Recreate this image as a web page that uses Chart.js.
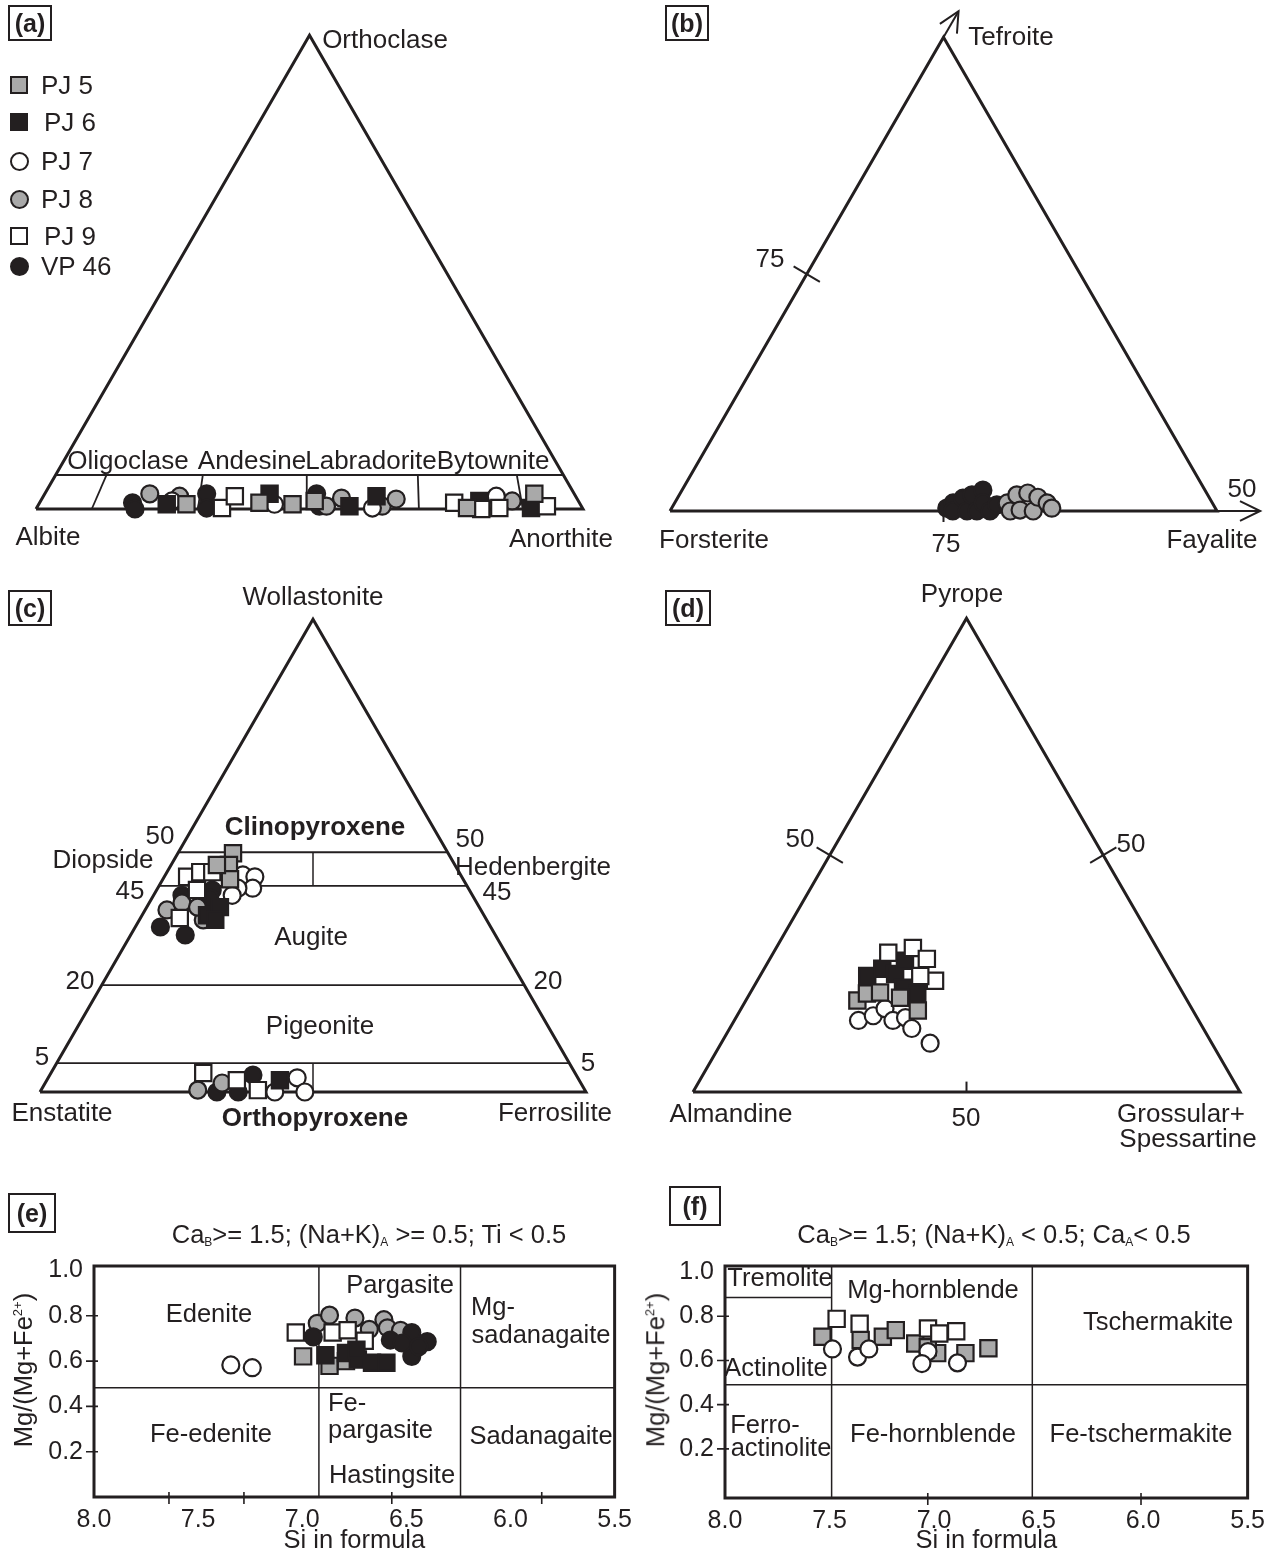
<!DOCTYPE html>
<html>
<head>
<meta charset="utf-8">
<script src="https://cdn.jsdelivr.net/npm/chart.js@4.4.1/dist/chart.umd.min.js"></script>
<style>
  body { margin: 0; background: #fff; }
  #page { position: relative; width: 1273px; height: 1556px; overflow: hidden;
          font-family: "Liberation Sans", Arial, sans-serif; color: #231f20; }
  #page canvas { position: absolute; }
  .lbl { position: absolute; font-size: 26px; line-height: 1; white-space: nowrap; transform: translate(-50%, -50%); }
  .lbl.sm { font-size: 25.5px; }
  .lbl.bold { font-weight: bold; }
  .lbl.left { transform: translate(0, -50%); }
  .lbl.rot { transform: translate(-50%, -50%) rotate(-90deg); }
  .lbl sub { font-size: 12px; line-height: 0; vertical-align: -3px; }
  .lbl sup { font-size: 13px; line-height: 0; vertical-align: 10px; }
  .tag { position: absolute; box-sizing: border-box; border: 2px solid #231f20; display: flex;
         align-items: center; justify-content: center; font: bold 25px "Liberation Sans", Arial, sans-serif; }
  .key { position: absolute; box-sizing: border-box; border: 2.5px solid #231f20; }
</style>
</head>
<body>
<div id="page"></div>
<script>
/* ---------- data ---------- */
const seriesNames = ['PJ 5', 'PJ 6', 'PJ 7', 'PJ 8', 'PJ 9', 'VP 46'];

// (a) feldspar, [An %, Or %]
const plagPJ5 = [[27.0, 1.0], [40.2, 1.3], [46.4, 1.0], [50.1, 1.7], [78.7, 0.2], [89.5, 3.2]];
const plagPJ6 = [[23.4, 1.0], [41.1, 3.2], [57.0, 0.6], [60.9, 2.7], [80.2, 1.7], [90.4, 0.2]];
const plagPJ7 = [[24.0, 1.7], [43.1, 1.0], [61.4, 0.2], [82.8, 2.7]];
const plagPJ8 = [[19.2, 3.2], [24.9, 2.7], [52.8, 0.6], [54.7, 2.3], [63.0, 0.6], [64.8, 2.1], [86.2, 1.7]];
const plagPJ9 = [[33.9, 0.2], [35.0, 2.7], [75.8, 1.3], [81.4, 0.0], [84.6, 0.2], [93.1, 0.6]];
const plagVP46 = [[17.0, 1.3], [18.1, 0.0], [29.6, 3.2], [31.1, 0.2], [49.7, 3.2], [51.5, 0.6]];
const plagFieldOr = 7.2;                       // top of the plagioclase band
const plagDivBase = [10.2, 29.6, 49.5, 70.0, 89.0]; // An at the base
const plagDivTop = [9.3, 26.9, 45.9, 66.2, 84.3];   // An at the band top

// (b) olivine, [Te %, Fa %] of the plotted triangle
const olPJ8 = [[1.7, 60.8], [0.0, 62.2], [3.4, 61.7], [0.2, 63.9], [3.8, 63.5], [0.0, 66.4], [2.9, 65.8], [1.7, 68.1], [0.6, 69.5]];
const olVP46 = [[0.6, 50.3], [1.7, 50.9], [0.0, 51.7], [2.7, 52.2], [0.0, 54.3], [3.4, 53.5], [0.0, 56.1], [4.4, 55.0], [1.7, 56.4], [0.0, 58.5], [1.3, 59.1]];

// (c) pyroxene, [Wo %, Fs %]
const pxPJ5 = [[50.5, 10.1], [48.0, 10.6], [45.0, 12.3], [48.0, 8.4]];
const pxPJ6 = [[37.4, 11.9], [39.1, 13.4], [36.4, 13.9], [2.5, 42.7]];
const pxPJ7 = [[45.9, 14.2], [45.5, 16.6], [43.1, 17.4], [43.1, 14.7], [41.6, 14.4], [0.0, 43.0], [3.0, 45.6], [0.0, 48.5]];
const pxPJ8 = [[38.5, 4.0], [36.4, 11.7], [40.0, 6.0], [39.1, 9.3], [0.4, 28.7], [1.9, 32.4]];
const pxPJ9 = [[45.5, 4.2], [46.5, 6.1], [42.7, 7.4], [36.8, 7.2], [46.5, 8.3], [4.0, 27.9], [2.5, 34.8], [0.4, 39.7]];
const pxVP46 = [[41.6, 5.2], [42.7, 10.2], [34.9, 4.6], [33.2, 10.0], [41.0, 10.6], [0.0, 32.4], [3.6, 37.2], [0.0, 36.3]];
const pxWoLines = [50.7, 43.6, 22.6, 6.1];

// (d) garnet, [Py %, Grs+Sps %]
const grtPJ5 = [[19.3, 20.4], [20.8, 21.4], [21.0, 23.7], [19.9, 27.9], [17.2, 32.5]];
const grtPJ6 = [[24.5, 19.6], [26.0, 21.6], [24.9, 24.5], [22.0, 27.4], [20.8, 30.6], [27.7, 24.9]];
const grtPJ7 = [[15.1, 22.7], [16.1, 24.9], [17.6, 26.3], [15.1, 29.0], [15.7, 31.0], [13.4, 33.3], [10.3, 38.2]];
const grtPJ9 = [[29.4, 21.0], [30.4, 25.0], [28.1, 28.7], [23.5, 32.5], [24.5, 29.3]];

// (e)/(f) amphibole, [Si, Mg/(Mg+Fe2+)]
const siTicks = [8.0, 7.5, 7.0, 6.5, 6.0, 5.5];
const mgTicks = [0.2, 0.4, 0.6, 0.8, 1.0];
const amEPJ5 = [[6.996, 0.621], [6.869, 0.579], [6.79, 0.60]];
const amEPJ6 = [[6.889, 0.626], [6.79, 0.636], [6.733, 0.607], [6.665, 0.593], [6.596, 0.593], [6.74, 0.65]];
const amEPJ7 = [[7.343, 0.583], [7.240, 0.571]];
const amEPJ8 = [[6.928, 0.767], [6.869, 0.803], [6.747, 0.79], [6.678, 0.74], [6.608, 0.783], [6.591, 0.747], [6.528, 0.736]];
const amEPJ9 = [[7.031, 0.726], [6.854, 0.726], [6.782, 0.736], [6.70, 0.69]];
const amEVP46 = [[6.947, 0.707], [6.474, 0.726], [6.40, 0.686], [6.474, 0.621], [6.577, 0.693], [6.52, 0.68], [6.44, 0.664]];
const amESiBounds = [6.92, 6.24];
const amEMgBound = 0.482;
const amETickMarks = [7.64, 7.28, 6.57, 5.85];
const amFPJ5 = [[7.534, 0.707], [7.351, 0.692], [7.245, 0.707], [7.183, 0.737], [7.09, 0.677], [6.985, 0.633], [6.85, 0.633], [6.74, 0.655], [7.03, 0.66]];
const amFPJ7 = [[7.486, 0.652], [7.366, 0.615], [7.312, 0.652], [7.029, 0.640], [7.058, 0.586], [6.888, 0.589]];
const amFPJ9 = [[7.466, 0.788], [7.356, 0.766], [7.029, 0.744], [6.975, 0.722], [6.894, 0.732]];
const amFSiBounds = [7.49, 6.53];
const amFMgBound = 0.49;
const amFTremolite = 0.885;
const amFTickMarks = [7.03, 6.01];

/* ---------- helpers ---------- */
const BLACK = '#231f20';
const GRAY = '#a9a9a9';
const FONT = '"Liberation Sans", Arial, sans-serif';
const page = document.getElementById('page');
const markerFill = { 'PJ 5': GRAY, 'PJ 6': BLACK, 'PJ 7': '#fff', 'PJ 8': GRAY, 'PJ 9': '#fff', 'VP 46': BLACK };
const markerShape = { 'PJ 5': 'rect', 'PJ 6': 'rect', 'PJ 7': 'circle', 'PJ 8': 'circle', 'PJ 9': 'rect', 'VP 46': 'circle' };

const R3 = Math.sqrt(3) / 2;
// ternary (top %, right %) -> unit-side triangle, left vertex at origin
function tern(top, right) { return { x: (right + top / 2) / 100, y: top * R3 / 100 }; }

function pointSet(name, data) {
  const sq = markerShape[name] === 'rect';
  return {
    label: name, data, showLine: false, order: 0,
    pointStyle: markerShape[name], pointRadius: sq ? 11.5 : 8.5,
    backgroundColor: markerFill[name], borderColor: BLACK, borderWidth: 2.2
  };
}
function lineSet(data, width) {
  return { data, showLine: true, pointRadius: 0, borderColor: BLACK, borderWidth: width || 2, fill: false, order: 1, clip: false };
}
const triangle = () => lineSet([tern(0, 0), tern(0, 100), tern(100, 0), tern(0, 0)], 3);

function addCanvas(box) {
  const cv = document.createElement('canvas');
  cv.width = box[2]; cv.height = box[3];
  cv.style.left = box[0] + 'px'; cv.style.top = box[1] + 'px';
  page.appendChild(cv);
  return cv;
}
const quiet = { legend: { display: false }, tooltip: { enabled: false } };

function ternaryChart(box, origin, side, datasets) {
  new Chart(addCanvas(box), {
    type: 'scatter',
    data: { datasets },
    options: {
      responsive: false, animation: false, devicePixelRatio: 1, events: [],
      layout: { padding: 0, autoPadding: false },
      plugins: quiet,
      scales: {
        x: { type: 'linear', display: false, min: (box[0] - origin[0]) / side, max: (box[0] + box[2] - origin[0]) / side },
        y: { type: 'linear', display: false, min: (origin[1] - box[1] - box[3]) / side, max: (origin[1] - box[1]) / side }
      }
    }
  });
}

// frame + tick marks that cross the frame
const framePlugin = {
  id: 'frame',
  afterDraw(chart, args, opts) {
    const { ctx, chartArea: a, scales: { x, y } } = chart;
    ctx.save();
    ctx.strokeStyle = BLACK;
    ctx.lineWidth = 1.6;
    ctx.beginPath();
    opts.xMarks.forEach(v => { const p = x.getPixelForValue(v); ctx.moveTo(p, a.bottom - 5); ctx.lineTo(p, a.bottom + 7); });
    opts.yMarks.forEach(v => { const p = y.getPixelForValue(v); ctx.moveTo(a.left - 8, p); ctx.lineTo(a.left + 4, p); });
    ctx.stroke();
    ctx.lineWidth = 3;
    ctx.strokeRect(a.left, a.top, a.width, a.height);
    ctx.restore();
  }
};

function amphChart(box, frame, yRange, datasets, xMarks) {
  const yWidth = frame[0] - box[0];
  const xHeight = box[1] + box[3] - frame[3];
  new Chart(addCanvas(box), {
    type: 'scatter',
    data: { datasets },
    plugins: [framePlugin],
    options: {
      responsive: false, animation: false, devicePixelRatio: 1, events: [],
      layout: { padding: { top: frame[1] - box[1], right: box[0] + box[2] - frame[2], left: 0, bottom: 0 }, autoPadding: false },
      plugins: Object.assign({ frame: { xMarks, yMarks: [0.2, 0.4, 0.6, 0.8] } }, quiet),
      scales: {
        x: {
          type: 'linear', reverse: true, min: 5.5, max: 8.0,
          afterBuildTicks: s => { s.ticks = siTicks.map(v => ({ value: v })); },
          afterFit: s => { s.height = xHeight; },
          grid: { display: false, drawTicks: false }, border: { display: false },
          ticks: { padding: 8, color: BLACK, font: { family: FONT, size: 25 }, maxRotation: 0, autoSkip: false,
                   callback: v => v.toFixed(1) },
          title: { display: true, text: 'Si in formula', color: BLACK, font: { family: FONT, size: 25.5 }, padding: { top: 0, bottom: 0 } }
        },
        y: {
          type: 'linear', min: yRange[0], max: yRange[1],
          afterBuildTicks: s => { s.ticks = mgTicks.map(v => ({ value: v })); },
          afterFit: s => { s.width = yWidth; },
          grid: { display: false, drawTicks: false }, border: { display: false },
          ticks: { padding: 11, color: BLACK, font: { family: FONT, size: 25 }, callback: v => v.toFixed(1) }
        }
      }
    }
  });
}
const xy = arr => arr.map(p => ({ x: p[0], y: p[1] }));

/* ---------- (a) feldspar ---------- */
const aLines = [triangle(), lineSet([tern(plagFieldOr, 0), tern(plagFieldOr, 100 - plagFieldOr)], 2)];
plagDivBase.forEach((b, i) => aLines.push(lineSet([tern(0, b), tern(plagFieldOr, plagDivTop[i])], 1.8)));
const plag = (name, arr) => pointSet(name, arr.map(p => tern(p[1], p[0])));
ternaryChart([0, 0, 636, 580], [36, 509], 547, [
  plag('PJ 5', plagPJ5), plag('PJ 9', plagPJ9), plag('PJ 6', plagPJ6),
  plag('PJ 7', plagPJ7), plag('PJ 8', plagPJ8), plag('VP 46', plagVP46)
].concat(aLines));

/* ---------- (b) olivine ---------- */
const apex = tern(100, 0);
const dir = { x: 0.5, y: R3 };
const tipT = { x: apex.x + 0.055 * dir.x, y: apex.y + 0.055 * dir.y };
const perp = { x: R3, y: -0.5 };
const barb = s => ({ x: tipT.x - 0.037 * dir.x + s * 0.018 * perp.x, y: tipT.y - 0.037 * dir.y + s * 0.018 * perp.y });
const midL = tern(50, 0);
const bLines = [
  triangle(),
  lineSet([apex, tipT], 2), lineSet([barb(1), tipT, barb(-1)], 2),
  lineSet([tern(0, 100), { x: 1.079, y: 0 }], 2),
  lineSet([{ x: 1.042, y: 0.018 }, { x: 1.079, y: 0 }, { x: 1.042, y: -0.018 }], 2),
  lineSet([tern(0, 50), { x: 0.5, y: -0.02 }], 2),
  lineSet([{ x: midL.x - 0.024, y: midL.y + 0.014 }, { x: midL.x + 0.024, y: midL.y - 0.014 }], 2)
];
const ol = (name, arr) => pointSet(name, arr.map(p => tern(p[0], p[1])));
ternaryChart([636, 0, 637, 580], [670, 511], 547, [ol('PJ 8', olPJ8), ol('VP 46', olVP46)].concat(bLines));

/* ---------- (c) pyroxene ---------- */
const cLines = [triangle()];
pxWoLines.forEach(w => cLines.push(lineSet([tern(w, 0), tern(w, 100 - w)], 1.8)));
cLines.push(lineSet([tern(pxWoLines[1], (100 - pxWoLines[1]) / 2), tern(pxWoLines[0], (100 - pxWoLines[0]) / 2)], 1.5));
cLines.push(lineSet([tern(0, 50), tern(pxWoLines[3], (100 - pxWoLines[3]) / 2)], 1.5));
const px = (name, arr) => pointSet(name, arr.map(p => tern(p[0], p[1])));
ternaryChart([0, 580, 636, 560], [40, 1092], 546, [
  px('PJ 5', pxPJ5), px('PJ 9', pxPJ9), px('PJ 6', pxPJ6),
  px('PJ 7', pxPJ7), px('PJ 8', pxPJ8), px('VP 46', pxVP46)
].concat(cLines));

/* ---------- (d) garnet ---------- */
const midR = tern(50, 50);
const dLines = [
  triangle(),
  lineSet([{ x: midL.x - 0.024, y: midL.y + 0.014 }, { x: midL.x + 0.024, y: midL.y - 0.014 }], 2),
  lineSet([{ x: midR.x - 0.024, y: midR.y - 0.014 }, { x: midR.x + 0.024, y: midR.y + 0.014 }], 2),
  lineSet([tern(0, 50), { x: 0.5, y: 0.019 }], 2)
];
const grt = (name, arr) => pointSet(name, arr.map(p => tern(p[0], p[1])));
ternaryChart([636, 580, 637, 560], [693, 1092], 547, [
  grt('PJ 5', grtPJ5), grt('PJ 9', grtPJ9), grt('PJ 6', grtPJ6), grt('PJ 7', grtPJ7)
].concat(dLines));

/* ---------- (e) Ca amphibole, (Na+K)A >= 0.5 ---------- */
const eRange = [0, 1.02];
const eLines = amESiBounds.map(s => lineSet([{ x: s, y: eRange[0] }, { x: s, y: eRange[1] }], 1.5));
eLines.push(lineSet([{ x: 8.0, y: amEMgBound }, { x: 5.5, y: amEMgBound }], 1.5));
amphChart([0, 1240, 640, 316], [94, 1260, 617, 1497], eRange, [
  pointSet('PJ 6', xy(amEPJ6)), pointSet('VP 46', xy(amEVP46)), pointSet('PJ 5', xy(amEPJ5)),
  pointSet('PJ 9', xy(amEPJ9)), pointSet('PJ 8', xy(amEPJ8)), pointSet('PJ 7', xy(amEPJ7))
].concat(eLines), amETickMarks);

/* ---------- (f) Ca amphibole, (Na+K)A < 0.5 ---------- */
const fRange = [-0.022, 1.027];
const fLines = amFSiBounds.map(s => lineSet([{ x: s, y: fRange[0] }, { x: s, y: fRange[1] }], 1.5));
fLines.push(lineSet([{ x: 8.0, y: amFMgBound }, { x: 5.5, y: amFMgBound }], 1.5));
fLines.push(lineSet([{ x: 8.0, y: amFTremolite }, { x: amFSiBounds[0], y: amFTremolite }], 1.5));
amphChart([640, 1240, 633, 316], [725, 1261, 1254, 1498], fRange, [
  pointSet('PJ 7', xy(amFPJ7)), pointSet('PJ 9', xy(amFPJ9)), pointSet('PJ 5', xy(amFPJ5))
].concat(fLines), amFTickMarks);

/* ---------- text ---------- */
const notes = [
  ['Orthoclase', 385, 39], ['Oligoclase', 128, 460], ['Andesine', 252, 460], ['Labradorite', 371, 460],
  ['Bytownite', 493, 460], ['Albite', 48, 536], ['Anorthite', 561, 538],
  ['Tefroite', 1011, 36], ['75', 770, 258], ['Forsterite', 714, 539], ['75', 946, 543],
  ['Fayalite', 1212, 539], ['50', 1242, 488],
  ['Wollastonite', 313, 596], ['Clinopyroxene', 315, 826, 'bold'], ['50', 160, 835], ['50', 470, 838],
  ['Diopside', 103, 859], ['Hedenbergite', 533, 866], ['45', 130, 890], ['45', 497, 891],
  ['Augite', 311, 936], ['20', 80, 980], ['20', 548, 980], ['Pigeonite', 320, 1025],
  ['5', 42, 1056], ['5', 588, 1062], ['Enstatite', 62, 1112], ['Orthopyroxene', 315, 1117, 'bold'],
  ['Ferrosilite', 555, 1112],
  ['Pyrope', 962, 593], ['50', 800, 838], ['50', 1131, 843], ['Almandine', 731, 1113],
  ['50', 966, 1117], ['Grossular+', 1181, 1113], ['Spessartine', 1188, 1138],
  ['Ca<sub>B</sub>&gt;= 1.5; (Na+K)<sub>A</sub> &gt;= 0.5; Ti &lt; 0.5', 369, 1235, 'sm'],
  ['Edenite', 209, 1314, 'sm'], ['Pargasite', 400, 1285, 'sm'], ['Mg-', 471, 1307, 'sm left'],
  ['sadanagaite', 541, 1335, 'sm'], ['Fe-edenite', 211, 1434, 'sm'], ['Fe-', 328, 1403, 'sm left'],
  ['pargasite', 328, 1430, 'sm left'], ['Hastingsite', 392, 1475, 'sm'], ['Sadanagaite', 541, 1436, 'sm'],
  ['Mg/(Mg+Fe<sup>2+</sup>)', 24, 1370, 'sm rot'],
  ['Ca<sub>B</sub>&gt;= 1.5; (Na+K)<sub>A</sub> &lt; 0.5; Ca<sub>A</sub>&lt; 0.5', 994, 1235, 'sm'],
  ['Tremolite', 780, 1278, 'sm'], ['Mg-hornblende', 933, 1290, 'sm'], ['Tschermakite', 1158, 1322, 'sm'],
  ['Actinolite', 776, 1368, 'sm'], ['Ferro-', 765, 1425, 'sm'], ['actinolite', 781, 1448, 'sm'],
  ['Fe-hornblende', 933, 1434, 'sm'], ['Fe-tschermakite', 1141, 1434, 'sm'],
  ['Mg/(Mg+Fe<sup>2+</sup>)', 656, 1370, 'sm rot']
];
notes.forEach(n => {
  const d = document.createElement('div');
  d.className = 'lbl ' + (n[3] || '');
  d.style.left = n[1] + 'px'; d.style.top = n[2] + 'px';
  d.innerHTML = n[0];
  page.appendChild(d);
});

const tags = [['(a)', 8, 5, 44, 36], ['(b)', 665, 5, 44, 36], ['(c)', 8, 590, 44, 36],
              ['(d)', 665, 590, 46, 36], ['(e)', 8, 1193, 48, 40], ['(f)', 669, 1186, 52, 40]];
tags.forEach(t => {
  const d = document.createElement('div');
  d.className = 'tag';
  d.style.cssText = `left:${t[1]}px;top:${t[2]}px;width:${t[3]}px;height:${t[4]}px`;
  d.textContent = t[0];
  page.appendChild(d);
});

// legend of panel (a)
const keyRows = [85, 122, 161, 199, 236, 266];
seriesNames.forEach((name, i) => {
  const k = document.createElement('div');
  const round = markerShape[name] === 'circle';
  const s = round ? 19 : 18;
  k.className = 'key';
  k.style.cssText = `left:${19 - s / 2}px;top:${keyRows[i] - s / 2}px;width:${s}px;height:${s}px;` +
    `background:${markerFill[name]};border-radius:${round ? '50%' : '0'}`;
  page.appendChild(k);
  const t = document.createElement('div');
  t.className = 'lbl left';
  t.style.left = (name === 'PJ 6' || name === 'PJ 9' ? 44 : 41) + 'px';
  t.style.top = keyRows[i] + 'px';
  t.textContent = name;
  page.appendChild(t);
});
</script>
